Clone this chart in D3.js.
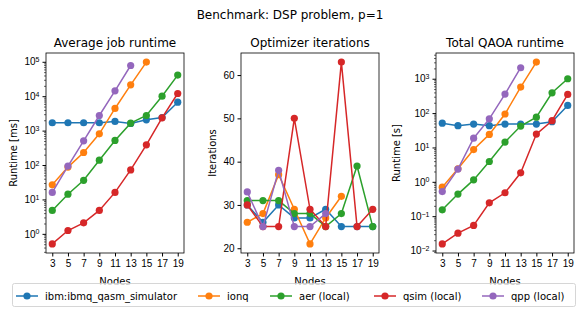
<!DOCTYPE html>
<html>
<head>
<meta charset="utf-8">
<script src="https://cdn.jsdelivr.net/npm/d3@7"></script>
<style>
  body { margin: 0; background: #fff; }
  svg { font-family: 'DejaVu Sans', sans-serif; }
</style>
</head>
<body>
<div id="chart"></div>
<script>
var nodes = [3, 5, 7, 9, 11, 13, 15, 17, 19];
var seriesNames = ['ibm:ibmq_qasm_simulator', 'ionq', 'aer (local)', 'qsim (local)', 'qpp (local)'];
var colors = ['#1f77b4', '#ff7f0e', '#2ca02c', '#d62728', '#9467bd'];

// average job runtime [ms]
var jobIbm = [1690, 1690, 1690, 1690, 1845, 1610, 2060, 2400, 6700];
var jobIonq = [26.6, 87, 231, 807, 4400, 21400, 98000];
var jobAer = [4.8, 14.2, 36, 138, 517, 1650, 2750, 10000, 41000];
var jobQsim = [0.51, 1.25, 2.09, 4.8, 16, 72, 386, 2350, 12000];
var jobQpp = [16, 93, 505, 2750, 14300, 78000];

// optimizer iterations
var iterIbm = [30, 26, 30, 27, 27, 29, 25, 25, 25];
var iterIonq = [26, 28, 37, 29, 21, 27, 32];
var iterAer = [31, 31, 31, 28, 28, 25, 28, 39, 25];
var iterQsim = [30, 25, 25, 50, 29, 25, 63, 25, 29];
var iterQpp = [33, 25, 38, 25, 25, 28];

// total QAOA runtime [s]
var totIbm = [51, 43, 48, 43, 48, 48, 48, 56, 167];
var totIonq = [0.70, 2.4, 8.7, 24, 94, 570, 3050];
var totAer = [0.153, 0.44, 1.14, 3.9, 14.3, 42, 76, 390, 1000];
var totQsim = [0.0156, 0.032, 0.054, 0.245, 0.48, 1.83, 24.5, 60, 350];
var totQpp = [0.52, 2.35, 18.6, 68, 357, 2090];

var xTicks = [3, 5, 7, 9, 11, 13, 15, 17, 19];
var iterTicks = [20, 30, 40, 50, 60];

var panels = [
    { title: 'Average job runtime', ylabel: 'Runtime [ms]', log: true,
      series: [jobIbm, jobIonq, jobAer, jobQsim, jobQpp], left: 46, ylabelX: 13 },
    { title: 'Optimizer iterations', ylabel: 'Iterations', log: false,
      series: [iterIbm, iterIonq, iterAer, iterQsim, iterQpp], left: 241, ylabelX: 212 },
    { title: 'Total QAOA runtime', ylabel: 'Runtime [s]', log: true,
      series: [totIbm, totIonq, totAer, totQsim, totQpp], left: 436, ylabelX: 396 }
];

var W = 581, H = 313;
var plotTop = 53, pw = 138, ph = 200;

var svg = d3.select('#chart').append('svg')
    .attr('width', W)
    .attr('height', H);

svg.append('text')
    .attr('x', 290)
    .attr('y', 19)
    .attr('text-anchor', 'middle')
    .style('font-size', '12px')
    .text('Benchmark: DSP problem, p=1');

var x = d3.scaleLinear().domain([2.2, 19.8]).range([0, pw]);

panels.forEach(function (p) {
    var all = d3.merge(p.series);
    var y;
    if (p.log) {
        var lo = Math.log10(d3.min(all)), hi = Math.log10(d3.max(all));
        var m = (hi - lo) * 0.05;
        y = d3.scaleLog().domain([Math.pow(10, lo - m), Math.pow(10, hi + m)]).range([ph, 0]);
    } else {
        var lo2 = d3.min(all), hi2 = d3.max(all);
        var m2 = (hi2 - lo2) * 0.05;
        y = d3.scaleLinear().domain([lo2 - m2, hi2 + m2]).range([ph, 0]);
    }

    var g = svg.append('g').attr('transform', 'translate(' + p.left + ',' + plotTop + ')');

    // x axis
    var xg = g.append('g')
        .attr('transform', 'translate(0,' + ph + ')')
        .call(d3.axisBottom(x).tickValues(xTicks).tickSize(3.5).tickSizeOuter(0).tickPadding(3));
    xg.select('.domain').remove();
    xg.selectAll('text').style('font-size', '10px').attr('fill', '#000');

    // y axis
    if (p.log) {
        var d = y.domain();
        var e0 = Math.ceil(Math.log10(d[0]) - 1e-9), e1 = Math.floor(Math.log10(d[1]) + 1e-9);
        var majors = d3.range(e0, e1 + 1).map(function (e) { return Math.pow(10, e); });
        var minors = [];
        for (var e = e0 - 1; e <= e1; e++) {
            for (var k = 2; k <= 9; k++) {
                var v = k * Math.pow(10, e);
                if (v >= d[0] && v <= d[1]) minors.push(v);
            }
        }
        var mg = g.append('g').call(d3.axisLeft(y).tickValues(minors).tickSize(2).tickSizeOuter(0).tickFormat(''));
        mg.select('.domain').remove();
        mg.selectAll('line').attr('stroke-width', 0.6);

        var yg = g.append('g').call(d3.axisLeft(y).tickValues(majors).tickSize(3.5).tickSizeOuter(0).tickPadding(3));
        yg.select('.domain').remove();
        yg.selectAll('text').each(function (v) {
            var ex = Math.round(Math.log10(v));
            var t = d3.select(this).text('').style('font-size', '10px').attr('fill', '#000');
            t.append('tspan').text('10');
            t.append('tspan').attr('dy', '-0.45em').style('font-size', '7px')
                .text(String(ex).replace('-', '\u2212'));
        });
    } else {
        var yg2 = g.append('g').call(d3.axisLeft(y).tickValues(iterTicks).tickSize(3.5).tickSizeOuter(0).tickPadding(3));
        yg2.select('.domain').remove();
        yg2.selectAll('text').style('font-size', '10px').attr('fill', '#000');
    }

    // lines and markers
    p.series.forEach(function (vals, i) {
        var pts = vals.map(function (v, j) { return [nodes[j], v]; });
        g.append('path')
            .datum(pts)
            .attr('fill', 'none')
            .attr('stroke', colors[i])
            .attr('stroke-width', 1.5)
            .attr('d', d3.line().x(function (q) { return x(q[0]); }).y(function (q) { return y(q[1]); }));
        g.selectAll(null)
            .data(pts)
            .enter().append('circle')
            .attr('cx', function (q) { return x(q[0]); })
            .attr('cy', function (q) { return y(q[1]); })
            .attr('r', 3.6)
            .attr('fill', colors[i]);
    });

    // frame
    g.append('rect')
        .attr('width', pw)
        .attr('height', ph)
        .attr('fill', 'none')
        .attr('stroke', '#000')
        .attr('stroke-width', 0.8);

    g.append('text')
        .attr('x', pw / 2)
        .attr('y', -6)
        .attr('text-anchor', 'middle')
        .style('font-size', '12px')
        .text(p.title);

    g.append('text')
        .attr('x', pw / 2)
        .attr('y', ph + 32)
        .attr('text-anchor', 'middle')
        .style('font-size', '10px')
        .text('Nodes');

    svg.append('text')
        .attr('transform', 'translate(' + p.ylabelX + ',' + (plotTop + ph / 2) + ') rotate(-90)')
        .attr('text-anchor', 'middle')
        .attr('dy', '0.35em')
        .style('font-size', '10px')
        .text(p.ylabel);
});

// legend
var legendX = [16, 198, 270, 374, 482];
var ly = 296;
svg.append('rect')
    .attr('x', 12.5)
    .attr('y', 283.5)
    .attr('width', 563)
    .attr('height', 23)
    .attr('rx', 2)
    .attr('fill', '#fff')
    .attr('fill-opacity', 0.8)
    .attr('stroke', '#ccc')
    .attr('stroke-width', 0.8);

seriesNames.forEach(function (name, i) {
    var lg = svg.append('g').attr('transform', 'translate(' + legendX[i] + ',' + ly + ')');
    lg.append('line').attr('x1', 0).attr('x2', 22).attr('stroke', colors[i]).attr('stroke-width', 1.5);
    lg.append('circle').attr('cx', 11).attr('r', 3.6).attr('fill', colors[i]);
    lg.append('text')
        .attr('x', 29)
        .attr('dy', '0.35em')
        .style('font-size', '10px')
        .text(name);
});
</script>
</body>
</html>
